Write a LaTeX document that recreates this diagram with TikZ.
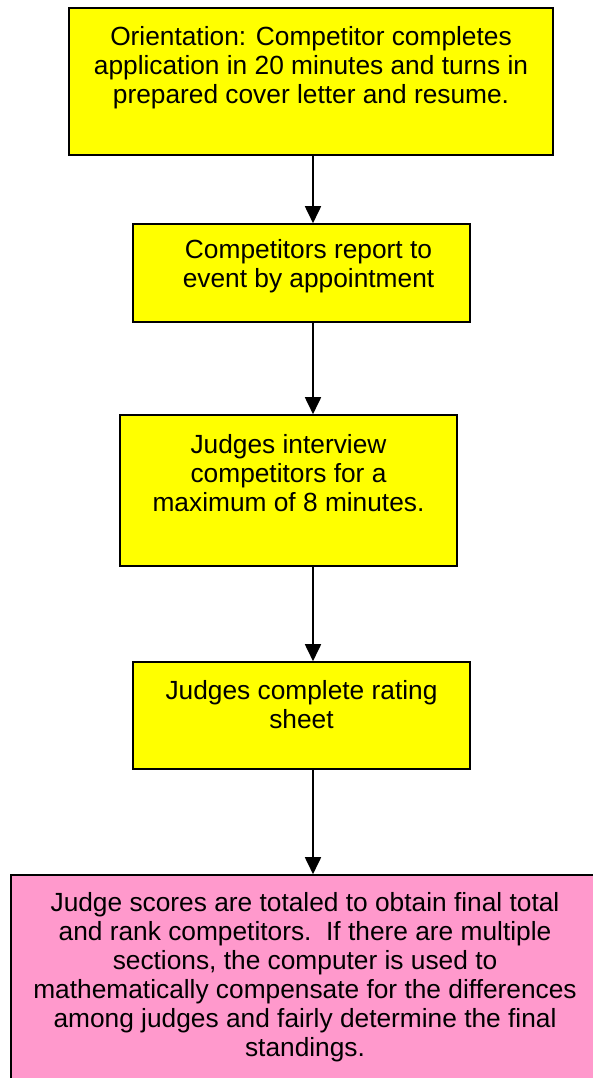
\documentclass[tikz,border=0pt]{standalone}
\usepackage{fontspec}
\setmainfont{Liberation Sans}
\usetikzlibrary{arrows.meta}
\definecolor{boxyellow}{HTML}{FFFF00}
\definecolor{boxpink}{HTML}{FF99CC}
\tikzset{
  stepbox/.style={draw=black, line width=1.6pt, inner sep=0pt},
  ybox/.style={stepbox, fill=boxyellow},
  pbox/.style={stepbox, fill=boxpink},
  txt/.style={align=center, inner sep=0pt, font=\fontsize{26.3}{29}\selectfont},
  arr/.style={line width=1.8pt, -{Triangle[length=17pt,width=16pt]}}
}
\begin{document}
\begin{tikzpicture}[x=1pt,y=-1pt]
\useasboundingbox (0,0) rectangle (593,1078);
\clip (0,0) rectangle (593,1078);
% boxes
\node[ybox, minimum width=484pt, minimum height=147pt] (b1) at (311,81.5) {};
\node[ybox, minimum width=337pt, minimum height=98pt] (b2) at (301.5,273) {};
\node[ybox, minimum width=337pt, minimum height=151pt] (b3) at (288.5,490.5) {};
\node[ybox, minimum width=337pt, minimum height=107pt] (b4) at (301.5,715.5) {};
\node[pbox, minimum width=620pt, minimum height=240pt] (b5) at (321,995) {};
% texts
\node[txt] (t1) at (311,68) {Orientation: Competitor completes\\application in 20 minutes and turns in\\prepared cover letter and resume.};
\node[txt] (t2) at (308.5,266) {Competitors report to\\event by appointment};
\node[txt] (t3) at (288.5,473) {Judges interview\\competitors for a\\maximum of 8 minutes.};
\node[txt] (t4) at (301.5,705) {Judges complete rating\\sheet};
\node[txt] (t5) at (305,977) {Judge scores are totaled to obtain final total\\and rank competitors.\ \ If there are multiple\\sections, the computer is used to\\mathematically compensate for the differences\\among judges and fairly determine the final\\standings.};
% arrows
\coordinate (ax) at (313,0);
\draw[arr] (b1.south -| ax) -- (b2.north -| ax);
\draw[arr] (b2.south -| ax) -- (b3.north -| ax);
\draw[arr] (b3.south -| ax) -- (b4.north -| ax);
\draw[arr] (b4.south -| ax) -- (b5.north -| ax);
\end{tikzpicture}
\end{document}
